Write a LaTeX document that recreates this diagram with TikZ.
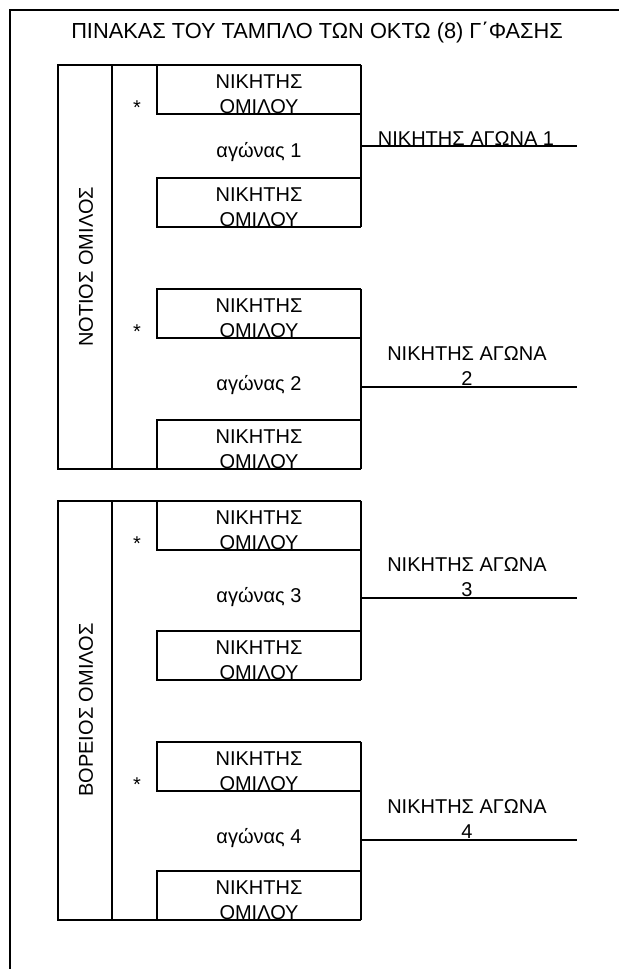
\documentclass[tikz,border=0pt]{standalone}
\usepackage{fontspec}
\setmainfont{Liberation Sans}

\begin{document}
\begin{tikzpicture}[x=1pt, y=-1pt,
	every node/.style={inner sep=0pt, font=\fontsize{20}{25}\selectfont},
	teambox/.style={minimum width=204pt, minimum height=49pt},
	boxline/.style={line width=2.4pt},
	edgeline/.style={line width=1.5pt},
	teamtxt/.style={align=center, anchor=south}]
	\useasboundingbox (0,0) rectangle (619,969);
	\draw[line width=2.2pt] (10,969) -- (10,10) -- (619,10);
	\node[anchor=base, font=\fontsize{21.8}{25}\selectfont] (title) at (317,38) {ΠΙΝΑΚΑΣ ΤΟΥ ΤΑΜΠΛΟ ΤΩΝ ΟΚΤΩ (8) Γ΄ΦΑΣΗΣ};
	
	% groups
	\draw[boxline] (361,65) -- (58,65) -- (58,469) -- (361,469);
	\draw[boxline] (112,65) -- (112,469);
	\node[rotate=90] (g1) at (86,267) {ΝΟΤΙΟΣ ΟΜΙΛΟΣ};
	\draw[boxline] (361,501) -- (58,501) -- (58,920) -- (361,920);
	\draw[boxline] (112,501) -- (112,920);
	\node[rotate=90] (g2) at (86,710) {ΒΟΡΕΙΟΣ ΟΜΙΛΟΣ};
	
	% boxes
	\node[teambox] (m1a) at (259,89.5) {};
	\node[teambox] (m1b) at (259,202.5) {};
	\node[teambox] (m2a) at (259,313.5) {};
	\node[teambox] (m2b) at (259,444.5) {};
	\node[teambox] (m3a) at (259,525.5) {};
	\node[teambox] (m3b) at (259,655.5) {};
	\node[teambox] (m4a) at (259,766.5) {};
	\node[teambox] (m4b) at (259,895.5) {};
	\draw[boxline] (m1a.north east) -- (m1a.north west) -- (m1a.south west) -- (m1a.south east);
	\draw[boxline] (m1b.north east) -- (m1b.north west) -- (m1b.south west) -- (m1b.south east);
	\draw[boxline] (m2a.north east) -- (m2a.north west) -- (m2a.south west) -- (m2a.south east);
	\draw[boxline] (m2b.north east) -- (m2b.north west) -- (m2b.south west) -- (m2b.south east);
	\draw[boxline] (m3a.north east) -- (m3a.north west) -- (m3a.south west) -- (m3a.south east);
	\draw[boxline] (m3b.north east) -- (m3b.north west) -- (m3b.south west) -- (m3b.south east);
	\draw[boxline] (m4a.north east) -- (m4a.north west) -- (m4a.south west) -- (m4a.south east);
	\draw[boxline] (m4b.north east) -- (m4b.north west) -- (m4b.south west) -- (m4b.south east);
	\draw[edgeline] (m1a.north east) -- (m1b.south east);
	\draw[edgeline] (m2a.north east) -- (m2b.south east);
	\draw[edgeline] (m3a.north east) -- (m3b.south east);
	\draw[edgeline] (m4a.north east) -- (m4b.south east);
	\node[teamtxt] (n1a) at (m1a.south) {ΝΙΚΗΤΗΣ\\ΟΜΙΛΟΥ};
	\node[teamtxt] (n1b) at (m1b.south) {ΝΙΚΗΤΗΣ\\ΟΜΙΛΟΥ};
	\node[teamtxt] (n2a) at (m2a.south) {ΝΙΚΗΤΗΣ\\ΟΜΙΛΟΥ};
	\node[teamtxt] (n2b) at (m2b.south) {ΝΙΚΗΤΗΣ\\ΟΜΙΛΟΥ};
	\node[teamtxt] (n3a) at (m3a.south) {ΝΙΚΗΤΗΣ\\ΟΜΙΛΟΥ};
	\node[teamtxt] (n3b) at (m3b.south) {ΝΙΚΗΤΗΣ\\ΟΜΙΛΟΥ};
	\node[teamtxt] (n4a) at (m4a.south) {ΝΙΚΗΤΗΣ\\ΟΜΙΛΟΥ};
	\node[teamtxt] (n4b) at (m4b.south) {ΝΙΚΗΤΗΣ\\ΟΜΙΛΟΥ};
	
	% stars and games
	\node[anchor=base] (s1) at (137,114) {*};
	\node[anchor=base] (s2) at (137,338) {*};
	\node[anchor=base] (s3) at (137,550) {*};
	\node[anchor=base] (s4) at (137,791) {*};
	\node[anchor=base] (a1) at (259,157) {αγώνας 1};
	\node[anchor=base] (a2) at (259,390) {αγώνας 2};
	\node[anchor=base] (a3) at (259,602) {αγώνας 3};
	\node[anchor=base] (a4) at (259,843) {αγώνας 4};
	
	% winners
	\coordinate (w1) at (577,146);
	\coordinate (w2) at (577,387);
	\coordinate (w3) at (577,598);
	\coordinate (w4) at (577,840);
	\draw[boxline] (m1a.east |- w1) -- (w1);
	\draw[boxline] (m2a.east |- w2) -- (w2);
	\draw[boxline] (m3a.east |- w3) -- (w3);
	\draw[boxline] (m4a.east |- w4) -- (w4);
	\node[anchor=base] (t1) at (466,145) {ΝΙΚΗΤΗΣ ΑΓΩΝΑ 1};
	\node[teamtxt] (t2) at (467,386) {ΝΙΚΗΤΗΣ ΑΓΩΝΑ\\2};
	\node[teamtxt] (t3) at (467,597) {ΝΙΚΗΤΗΣ ΑΓΩΝΑ\\3};
	\node[teamtxt] (t4) at (467,839) {ΝΙΚΗΤΗΣ ΑΓΩΝΑ\\4};
\end{tikzpicture}
\end{document}
